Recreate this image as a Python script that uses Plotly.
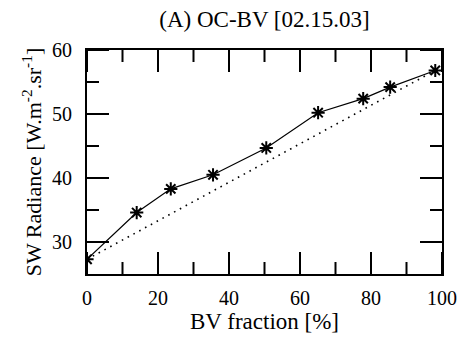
import plotly.graph_objects as go

bv_fraction = [0, 14.0, 23.6, 35.5, 50.5, 65.1, 77.8, 85.4, 98.1]
sw_radiance = [27.3, 34.6, 38.3, 40.5, 44.7, 50.2, 52.4, 54.2, 56.8]
mix_x = [0, 98.1]
mix_y = [27.3, 56.8]
x_major = [0, 20, 40, 60, 80, 100]
x_minor = [10, 30, 50, 70, 90]
y_major = [30, 40, 50, 60]
y_minor = [35, 45, 55]
x_range = [0, 100]
y_range = [25, 60]

FONT = "Liberation Serif"
MAJOR_LEN = 22
MINOR_LEN = 12

fig = go.Figure()
fig.add_trace(go.Scatter(x=mix_x, y=mix_y, mode="lines",
                         line=dict(color="black", width=1.6, dash="1.6px,5px"),
                         showlegend=False))
fig.add_trace(go.Scatter(x=bv_fraction, y=sw_radiance, mode="lines+markers",
                         line=dict(color="black", width=1.2),
                         marker=dict(symbol="asterisk-open", size=11,
                                     line=dict(color="black", width=2)),
                         showlegend=False))

# inward tick marks on all four sides (drawn as shapes at the tick values)
tick_line = dict(color="black", width=2)
for vals, ln in ((x_major, MAJOR_LEN), (x_minor, MINOR_LEN)):
    for v in vals:
        for anchor, sign in ((0, 1), (1, -1)):
            fig.add_shape(type="line", xref="x", yref="paper",
                          ysizemode="pixel", yanchor=anchor,
                          x0=v, x1=v, y0=0, y1=sign * ln, line=tick_line)
for vals, ln in ((y_major, MAJOR_LEN), (y_minor, MINOR_LEN)):
    for v in vals:
        for anchor, sign in ((0, 1), (1, -1)):
            fig.add_shape(type="line", xref="paper", yref="y",
                          xsizemode="pixel", xanchor=anchor,
                          y0=v, y1=v, x0=0, x1=sign * ln, line=tick_line)

axis_common = dict(showline=True, linecolor="black", linewidth=2, mirror=True,
                   ticks="", showgrid=False, zeroline=False, automargin=False,
                   tickfont=dict(family=FONT, size=20, color="black"))

fig.update_layout(
    width=460, height=337,
    margin=dict(l=87, r=18, t=50, b=63),
    paper_bgcolor="white", plot_bgcolor="white",
    title=dict(text="(A) OC-BV [02.15.03]", x=0.5, xanchor="center",
               xref="paper", y=1 - 19 / 337, yref="container", yanchor="middle",
               font=dict(family=FONT, size=23, color="black")),
    xaxis=dict(range=x_range, tickmode="array", tickvals=x_major,
               ticklabelstandoff=5,
               title=dict(text="BV fraction [%]",
                          font=dict(family=FONT, size=23, color="black"),
                          standoff=2),
               **axis_common),
    yaxis=dict(range=y_range, tickmode="array", tickvals=y_major,
               ticklabelstandoff=9,
               title=dict(text="SW Radiance [W.m<sup>-2</sup>.sr<sup>-1</sup>]",
                          font=dict(family=FONT, size=22, color="black"),
                          standoff=4),
               **axis_common),
)

fig.write_html("out.html")
